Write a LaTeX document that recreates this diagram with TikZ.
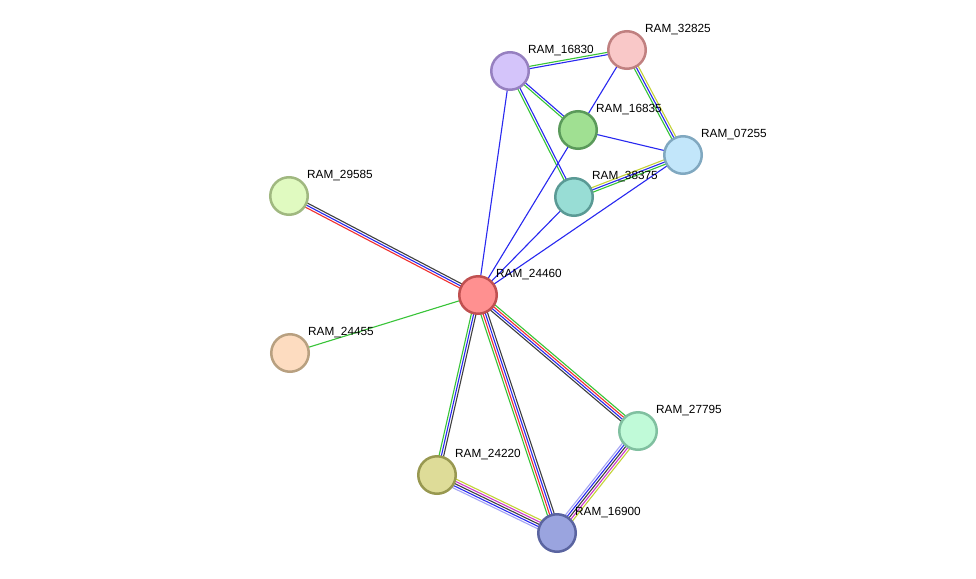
\documentclass[tikz,border=0pt]{standalone}
\usepackage{fontspec}
\usetikzlibrary{calc,backgrounds}
\newfontfamily\labelfont{Liberation Sans}
\definecolor{evgreen}{RGB}{56,196,56}
\definecolor{evblue}{RGB}{40,40,240}
\definecolor{evblack}{RGB}{64,64,64}
\definecolor{evred}{RGB}{240,48,48}
\definecolor{evyellow}{RGB}{196,210,56}
\definecolor{evmagenta}{RGB}{204,56,204}
\definecolor{evlight}{RGB}{164,164,244}

% parallel evidence lines between two proteins
\newcommand{\bundle}[4]{%
  \foreach \col [count=\k] in {#4} {
    \pgfmathsetmacro{\off}{(\k-(#3+1)/2)*2.3}
    \draw[link, \col] ($(#1)!\off pt!90:(#2)$) -- ($(#2)!\off pt!-90:(#1)$);
  }}

\begin{document}
\begin{tikzpicture}[
    x=1pt, y=-1pt,
    prot/.style={circle, line width=2.5pt, minimum size=37.5pt, inner sep=0pt},
    plabel/.style={anchor=base west, inner sep=0pt, font=\labelfont\fontsize{11.8}{14}\selectfont},
    link/.style={line width=1.1pt}
  ]
    \useasboundingbox (0,0) rectangle (976,578);

    \node[prot, fill={rgb,255:red,212;green,196;blue,250}, draw={rgb,255:red,150;green,128;blue,192}] (p16830) at (510,71) {};
    \node[prot, fill={rgb,255:red,249;green,200;blue,200}, draw={rgb,255:red,192;green,128;blue,128}] (p32825) at (627,50) {};
    \node[prot, fill={rgb,255:red,160;green,224;blue,146}, draw={rgb,255:red,90;green,154;blue,90}] (p16835) at (578,130) {};
    \node[prot, fill={rgb,255:red,194;green,230;blue,250}, draw={rgb,255:red,128;green,168;blue,192}] (p07255) at (683,155) {};
    \node[prot, fill={rgb,255:red,152;green,221;blue,213}, draw={rgb,255:red,90;green,154;blue,149}] (p38375) at (574,197) {};
    \node[prot, fill={rgb,255:red,224;green,250;blue,192}, draw={rgb,255:red,160;green,184;blue,128}] (p29585) at (289,196) {};
    \node[prot, fill={rgb,255:red,255;green,144;blue,144}, draw={rgb,255:red,192;green,80;blue,80}] (p24460) at (478,295) {};
    \node[prot, fill={rgb,255:red,253;green,220;blue,192}, draw={rgb,255:red,184;green,160;blue,128}] (p24455) at (290,353) {};
    \node[prot, fill={rgb,255:red,192;green,250;blue,216}, draw={rgb,255:red,128;green,192;blue,160}] (p27795) at (638,431) {};
    \node[prot, fill={rgb,255:red,222;green,220;blue,152}, draw={rgb,255:red,152;green,152;blue,80}] (p24220) at (437,475) {};
    \node[prot, fill={rgb,255:red,154;green,164;blue,223}, draw={rgb,255:red,90;green,100;blue,160}] (p16900) at (557,533) {};

    \node[plabel] (l16830) at (528,53.2) {RAM\_16830};
    \node[plabel] (l32825) at (645,32.2) {RAM\_32825};
    \node[plabel] (l16835) at (596,112.2) {RAM\_16835};
    \node[plabel] (l07255) at (701,137.2) {RAM\_07255};
    \node[plabel] (l38375) at (592,179.2) {RAM\_38375};
    \node[plabel] (l29585) at (307,178.2) {RAM\_29585};
    \node[plabel] (l24460) at (496,277.2) {RAM\_24460};
    \node[plabel] (l24455) at (308,335.2) {RAM\_24455};
    \node[plabel] (l27795) at (656,413.2) {RAM\_27795};
    \node[plabel] (l24220) at (455,457.2) {RAM\_24220};
    \node[plabel] (l16900) at (575,515.2) {RAM\_16900};

    \begin{pgfonlayer}{background}
      \fill[white] (0,0) rectangle (976,578);
      \bundle{p16830}{p32825}{2}{evblue,evgreen}
      \bundle{p16830}{p16835}{2}{evgreen,evblue}
      \bundle{p16830}{p38375}{2}{evgreen,evblue}
      \bundle{p16830}{p24460}{1}{evblue}
      \bundle{p32825}{p24460}{1}{evblue}
      \bundle{p32825}{p07255}{3}{evgreen,evblue,evyellow}
      \bundle{p16835}{p07255}{1}{evblue}
      \bundle{p38375}{p07255}{3}{evgreen,evblue,evyellow}
      \bundle{p38375}{p24460}{1}{evblue}
      \bundle{p07255}{p24460}{1}{evblue}
      \bundle{p29585}{p24460}{3}{evred,evblue,evblack}
      \bundle{p24455}{p24460}{1}{evgreen}
      \bundle{p24460}{p24220}{3}{evgreen,evblue,evblack}
      \bundle{p24460}{p16900}{4}{evgreen,evred,evblue,evblack}
      \bundle{p24460}{p27795}{4}{evblack,evblue,evred,evgreen}
      \bundle{p24220}{p16900}{5}{evlight,evblue,evblack,evmagenta,evyellow}
      \bundle{p27795}{p16900}{5}{evlight,evblue,evblack,evmagenta,evyellow}
    \end{pgfonlayer}
  \end{tikzpicture}
\end{document}
